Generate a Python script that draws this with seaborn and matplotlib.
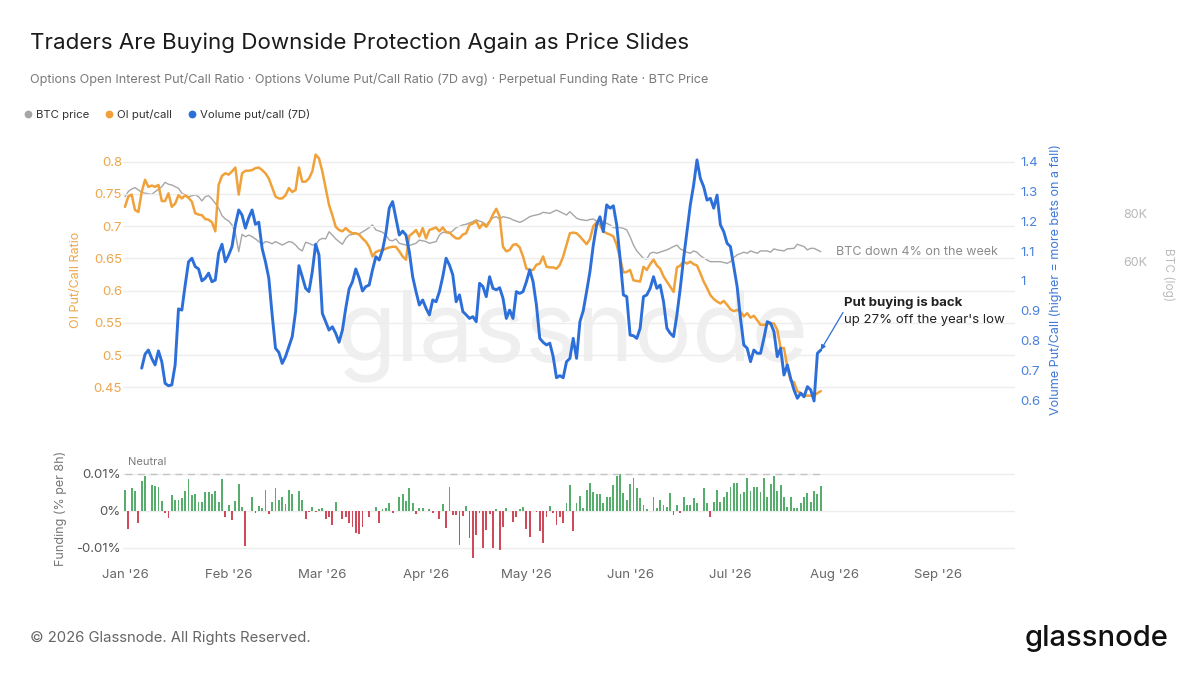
import numpy as np
import pandas as pd
import matplotlib
matplotlib.use("Agg")
import matplotlib.pyplot as plt
import matplotlib.dates as mdates
from matplotlib.lines import Line2D
from matplotlib.ticker import NullLocator
import seaborn as sns

# ── data ───────────────────────────────────────────────────
START = pd.Timestamp("2026-01-01")

# OI put/call ratio, daily from Jan 1
oi_start = 0
oi_ratio = [
    0.730, 0.746, 0.749, 0.725, 0.722, 0.753, 0.772, 0.761, 0.763, 0.761,
    0.764, 0.739, 0.739, 0.751, 0.730, 0.735, 0.748, 0.743, 0.748, 0.744,
    0.738, 0.720, 0.718, 0.717, 0.711, 0.710, 0.706, 0.692, 0.764, 0.778,
    0.782, 0.780, 0.785, 0.791, 0.749, 0.782, 0.786, 0.786, 0.787, 0.790,
    0.791, 0.787, 0.782, 0.774, 0.760, 0.746, 0.743, 0.743, 0.748, 0.759,
    0.753, 0.756, 0.791, 0.769, 0.769, 0.774, 0.785, 0.811, 0.805, 0.785,
    0.759, 0.733, 0.717, 0.699, 0.694, 0.692, 0.697, 0.692, 0.689, 0.689,
    0.687, 0.681, 0.676, 0.668, 0.653, 0.660, 0.662, 0.663, 0.665, 0.667,
    0.668, 0.668, 0.661, 0.653, 0.648, 0.685, 0.689, 0.694, 0.684, 0.697,
    0.681, 0.694, 0.696, 0.698, 0.692, 0.698, 0.691, 0.690, 0.685, 0.681,
    0.681, 0.687, 0.689, 0.702, 0.704, 0.708, 0.697, 0.704, 0.699, 0.707,
    0.718, 0.727, 0.715, 0.668, 0.661, 0.663, 0.671, 0.672, 0.667, 0.653,
    0.634, 0.632, 0.632, 0.640, 0.642, 0.653, 0.637, 0.636, 0.636, 0.634,
    0.640, 0.653, 0.671, 0.689, 0.690, 0.689, 0.684, 0.678, 0.672, 0.680,
    0.700, 0.706, 0.702, 0.692, 0.689, 0.687, 0.684, 0.671, 0.650, 0.628,
    0.629, 0.632, 0.616, 0.615, 0.614, 0.637, 0.632, 0.641, 0.648, 0.639,
    0.634, 0.622, 0.614, 0.606, 0.598, 0.636, 0.639, 0.645, 0.642, 0.645,
    0.641, 0.639, 0.627, 0.614, 0.604, 0.593, 0.587, 0.583, 0.580, 0.584,
    0.578, 0.571, 0.568, 0.570, 0.567, 0.560, 0.565, 0.558, 0.561, 0.554,
    0.547, 0.547, 0.548, 0.549, 0.549, 0.539, 0.511, 0.511, 0.482, 0.460,
    0.458, 0.444, 0.441, 0.438, 0.437, 0.437, 0.437, 0.441, 0.444,
]

# Volume put/call (7D avg), daily from Jan 6
vol_start = 5
vol_ratio = [
    0.707, 0.754, 0.768, 0.740, 0.718,
    0.765, 0.729, 0.656, 0.648, 0.651, 0.718, 0.906, 0.902, 0.986, 1.064,
    1.076, 1.048, 1.040, 1.000, 1.009, 1.026, 0.997, 1.003, 1.093, 1.123,
    1.064, 1.087, 1.115, 1.188, 1.238, 1.221, 1.177, 1.212, 1.238, 1.190,
    1.197, 1.109, 1.064, 1.009, 0.886, 0.774, 0.760, 0.723, 0.746, 0.779,
    0.813, 0.897, 1.051, 1.014, 0.975, 0.964, 1.031, 1.123, 1.087, 0.891,
    0.863, 0.835, 0.846, 0.824, 0.794, 0.835, 0.908, 0.973, 0.997, 1.040,
    1.009, 0.966, 0.981, 0.986, 1.037, 1.081, 1.070, 1.104, 1.160, 1.244,
    1.266, 1.210, 1.154, 1.167, 1.154, 1.098, 1.014, 0.964, 0.919, 0.936,
    0.908, 0.886, 0.936, 0.930, 0.964, 1.014, 1.076, 1.053, 1.020, 0.930,
    0.953, 0.897, 0.886, 0.874, 0.880, 0.863, 0.992, 0.981, 0.947, 1.014,
    0.975, 0.970, 0.977, 0.942, 0.874, 0.902, 0.874, 0.964, 0.958, 0.964,
    0.997, 1.037, 0.997, 0.919, 0.807, 0.794, 0.785, 0.791, 0.746, 0.675,
    0.682, 0.675, 0.729, 0.740, 0.807, 0.740, 0.863, 0.900, 0.964, 1.031,
    1.120, 1.188, 1.215, 1.165, 1.255, 1.244, 1.252, 1.188, 1.076, 0.953,
    0.947, 0.818, 0.816, 0.807, 0.841, 0.947, 0.953, 0.975, 1.014, 0.975,
    0.986, 0.930, 0.841, 0.824, 0.813, 0.886, 0.975, 1.076, 1.165, 1.255,
    1.322, 1.406, 1.344, 1.316, 1.271, 1.277, 1.244, 1.288, 1.188, 1.165,
    1.126, 1.115, 1.048, 0.981, 0.874, 0.785, 0.774, 0.729, 0.768, 0.757,
    0.757, 0.807, 0.863, 0.858, 0.830, 0.746, 0.774, 0.684, 0.718, 0.673,
    0.634, 0.606, 0.623, 0.611, 0.645, 0.634, 0.597, 0.757, 0.768,
]

# BTC price (thousand USD), day offset from Jan 1
btc_day = [
    0, 1, 2, 3, 4, 5, 6, 8, 9, 11, 12, 13, 14, 15, 16, 17, 18, 19, 21, 22,
    23, 24, 25, 26, 27, 28, 29, 30, 31, 32, 33, 34, 35, 36, 37, 38, 39, 40, 41, 42,
    43, 44, 45, 46, 47, 48, 49, 50, 51, 52, 53, 54, 55, 56, 57, 58, 59, 60, 61, 62,
    63, 64, 65, 66, 67, 68, 69, 70, 72, 74, 75, 77, 78, 79, 80, 81, 82, 84, 85, 87,
    88, 90, 91, 93, 94, 95, 97, 98, 99, 101, 102, 104, 105, 107, 108, 109, 110, 111, 112, 113,
    115, 116, 118, 119, 121, 122, 124, 125, 127, 128, 129, 130, 131, 132, 133, 134, 135, 136, 138, 139,
    140, 141, 143, 145, 146, 148, 149, 150, 151, 152, 153, 155, 156, 157, 158, 159, 161, 162, 164, 165,
    166, 168, 169, 170, 171, 172, 174, 175, 177, 178, 180, 181, 182, 183, 185, 186, 187, 189, 190, 192,
    193, 194, 195, 197, 198, 200, 201, 203, 204, 205, 206, 208,
]
btc_k = [
    88.7, 91.5, 92.9, 93.7, 92.4, 91.1, 90.6, 90.0, 91.4, 94.2, 96.7, 95.6, 95.2, 94.2, 93.3, 90.6, 89.7, 88.7, 89.7, 88.7,
    86.5, 88.7, 89.3, 87.5, 85.3, 82.8, 79.2, 77.6, 76.7, 74.9, 71.3, 63.8, 70.8, 69.8, 70.5, 69.8, 68.9, 67.8, 66.7, 67.8,
    67.5, 66.9, 67.8, 67.1, 66.4, 67.1, 67.8, 67.5, 66.4, 64.9, 64.1, 67.5, 67.1, 66.4, 66.4, 68.4, 69.1, 68.9, 71.9, 70.5,
    68.9, 67.8, 66.7, 69.1, 70.5, 70.8, 71.1, 71.0, 72.7, 74.9, 72.7, 71.7, 70.5, 68.4, 68.1, 68.9, 67.1, 66.4, 66.2, 67.1,
    68.4, 67.8, 67.1, 67.8, 70.5, 71.7, 71.3, 72.3, 73.7, 74.9, 75.2, 76.4, 77.2, 76.1, 74.9, 76.7, 78.2, 78.7, 77.6, 78.7,
    78.0, 77.2, 76.1, 76.7, 78.7, 79.2, 79.9, 80.8, 80.3, 81.1, 81.9, 81.1, 80.3, 79.5, 81.1, 79.5, 78.0, 77.4, 76.9, 77.4,
    77.6, 76.7, 76.4, 74.9, 73.7, 73.7, 73.4, 72.7, 69.8, 66.4, 64.1, 61.3, 61.1, 63.2, 63.6, 63.2, 64.1, 64.5, 65.8, 66.4,
    64.9, 63.6, 63.2, 64.1, 63.6, 62.3, 60.7, 60.1, 60.1, 60.1, 59.5, 60.1, 61.6, 62.6, 63.6, 63.2, 64.1, 63.2, 64.1, 64.1,
    63.6, 64.9, 64.5, 64.1, 64.9, 65.1, 66.7, 65.8, 64.5, 65.1, 65.1, 63.8,
]

# perpetual funding rate (% per 8h), daily from Jan 1
funding = [
    0.0055, -0.0050, 0.0060, 0.0054, -0.0032, 0.0080, 0.0093, 0.0, 0.0069, 0.0067,
    0.0064, 0.0027, -0.0005, -0.0020, 0.0042, 0.0029, 0.0030, 0.0035, 0.0053, 0.0084,
    0.0041, 0.0045, 0.0024, 0.0024, 0.0050, 0.0050, 0.0045, 0.0054, 0.0024, 0.0084,
    -0.0016, 0.0015, -0.0025, 0.0027, 0.0073, 0.0011, -0.0095, 0.0, 0.0036, -0.0005,
    0.0012, 0.0006, 0.0057, -0.0009, 0.0024, 0.0060, 0.0030, 0.0036, 0.0018, 0.0055,
    0.0046, 0.0, 0.0053, 0.0029, -0.0023, -0.0003, 0.0009, -0.0003, 0.0004, 0.0007,
    -0.0023, -0.0016, -0.0039, 0.0024, 0.0, -0.0021, -0.0018, -0.0032, -0.0045, -0.0059,
    -0.0063, -0.0045, 0.0, -0.0016, 0.0, 0.0009, -0.0034, 0.0004, 0.0006, 0.0022,
    -0.0005, 0.0, 0.0036, 0.0045, 0.0027, 0.0060, 0.0020, -0.0009, 0.0006, 0.0007,
    0.0, 0.0004, -0.0005, 0.0, -0.0023, 0.0018,
    -0.0047, 0.0063, -0.0012, -0.0012, -0.0092, -0.0014, 0.0013, -0.0074, -0.0128, -0.0065,
    -0.0007, -0.0101, -0.0052, -0.0009, -0.0101, 0.0004, -0.0105, -0.0043, 0.0006, 0.0,
    -0.0030, -0.0016, 0.0004, 0.0011, -0.0050, -0.0070, 0.0, -0.0003, -0.0054, -0.0088,
    -0.0018, 0.0013, -0.0005, -0.0038, -0.0016, -0.0032, 0.0020, 0.0069, -0.0054, 0.0020,
    0.0039, 0.0006, 0.0055, 0.0075, 0.0051, 0.0046, 0.0046, 0.0020, 0.0036, 0.0036,
    0.0069, 0.0093, 0.0098, 0.0048, 0.0030, 0.0071, 0.0087, 0.0060, 0.0033, 0.0015,
    0.0004, 0.0, 0.0036, 0.0006, 0.0030, 0.0015, 0.0009, 0.0048, -0.0012, 0.0015,
    -0.0007, 0.0036, 0.0015, 0.0015, 0.0033, 0.0020, 0.0, 0.0060, 0.0021, -0.0018,
    0.0024, 0.0057, 0.0024, 0.0037, 0.0051, 0.0064, 0.0075, 0.0075, 0.0045,
    0.0051, 0.0087, 0.0054, 0.0064, 0.0064, 0.0051, 0.0087, 0.0037, 0.0073, 0.0093,
    0.0054, 0.0069, 0.0037, 0.0011, 0.0037, 0.0006, 0.0006, 0.0021, 0.0036,
    0.0048, 0.0024, 0.0054, 0.0045, 0.0066,
]

oi_ticks = [0.45, 0.5, 0.55, 0.6, 0.65, 0.7, 0.75, 0.8]
vol_ticks = [0.6, 0.7, 0.8, 0.9, 1.0, 1.1, 1.2, 1.3, 1.4]
btc_ticks = [60, 80]
funding_ticks = [-0.01, 0.0, 0.01]

# ── style ───────────────────────────────────────────────────
ORANGE = "#f0a13a"
BLUE = "#2d6fd9"
GRAY = "#a6a6a6"
GREEN = "#56ad6c"
RED = "#cf4b5c"
GRID = "#ededed"

sns.set_theme(style="white")
plt.rcParams["font.family"] = ["Inter", "DejaVu Sans"]


def days_to_dates(start, n):
    return START + pd.to_timedelta(np.arange(n) + start, unit="D")


oi_dates = days_to_dates(oi_start, len(oi_ratio))
vol_dates = days_to_dates(vol_start, len(vol_ratio))
btc_dates = START + pd.to_timedelta(btc_day, unit="D")
f_dates = days_to_dates(0, len(funding))

x_lo = START - pd.Timedelta(hours=12)
x_hi = START + pd.Timedelta(days=266)

fig = plt.figure(figsize=(12, 6.75), dpi=100)
ax_btc = fig.add_axes([0.10275, 0.3956, 0.7429, 0.3822])
ax_oi = ax_btc.twinx()
ax_vol = ax_btc.twinx()
ax_f = fig.add_axes([0.10275, 0.1674, 0.7429, 0.1585])

# watermark
ax_btc.text(0.504, 0.28, "glassnode", transform=ax_btc.transAxes, fontsize=70,
            color="#efefef", ha="center", va="center", zorder=0)

# BTC price (log, far right)
sns.lineplot(x=btc_dates, y=np.array(btc_k) * 1000, ax=ax_btc, color=GRAY, linewidth=1.0)
ax_btc.set_yscale("log")
ax_btc.set_ylim(25000, 117400)
ax_btc.yaxis.tick_right()
ax_btc.spines["right"].set_position(("outward", 74))
ax_btc.set_yticks([v * 1000 for v in btc_ticks])
ax_btc.set_yticklabels([f"{v}K" for v in btc_ticks])
ax_btc.yaxis.set_minor_locator(NullLocator())
ax_btc.tick_params(axis="y", colors="#b8b8b8", labelsize=9, length=0, pad=4)
ax_btc.annotate("BTC down 4% on the week", xy=(btc_dates[-1], btc_k[-1] * 1000),
                xytext=(11, 0), textcoords="offset points", va="center",
                fontsize=9, color="#8c8c8c")

# OI put/call (left)
sns.lineplot(x=oi_dates, y=oi_ratio, ax=ax_oi, color=ORANGE, linewidth=1.8)
ax_oi.yaxis.tick_left()
ax_oi.set_ylim(0.4179, 0.8182)
ax_oi.set_yticks(oi_ticks)
ax_oi.set_yticklabels([f"{v:g}" for v in oi_ticks])
ax_oi.tick_params(axis="y", colors="#eda64a", labelsize=9.5, length=0, pad=1)
ax_oi.grid(axis="y", color=GRID, linewidth=1)
ax_oi.set_axisbelow(True)

# Volume put/call (right)
sns.lineplot(x=vol_dates, y=vol_ratio, ax=ax_vol, color=BLUE, linewidth=2.1)
ax_vol.set_ylim(0.5735, 1.4393)
ax_vol.set_yticks(vol_ticks)
ax_vol.set_yticklabels([f"{v:g}" for v in vol_ticks])
ax_vol.tick_params(axis="y", colors="#4a80da", labelsize=9.5, length=0, pad=4)
ax_vol.grid(False)

last = (vol_dates[-1], vol_ratio[-1])
ax_vol.annotate("", xy=last, xytext=(16, 27), textcoords="offset points",
                arrowprops=dict(arrowstyle="-|>", color=BLUE, lw=0.9,
                                mutation_scale=7, shrinkA=0, shrinkB=0))
ax_vol.annotate("Put buying is back", xy=last, xytext=(17, 34), textcoords="offset points",
                fontsize=9.5, fontweight="bold", color="#222222", va="center")
ax_vol.annotate("up 27% off the year's low", xy=last, xytext=(17, 21.5),
                textcoords="offset points", fontsize=9.5, color="#222222", va="center")

for a in (ax_btc, ax_oi, ax_vol):
    a.set_xlim(x_lo, x_hi)
    a.set_xlabel("")
    a.set_ylabel("")
    a.tick_params(axis="x", length=0, labelbottom=False)
    for s in a.spines.values():
        s.set_visible(False)

# funding panel
bar_colors = [GREEN if v >= 0 else RED for v in funding]
ax_f.bar(f_dates, funding, width=0.55, color=bar_colors, linewidth=0)
ax_f.hlines(0.01, f_dates[0], f_dates[-1], colors="#c4c4c4", linestyles=(0, (5, 4)),
            linewidth=1, zorder=1)
ax_f.text(START + pd.Timedelta(days=1), 0.0131, "Neutral", fontsize=8,
          color="#7a7a7a", va="center")
ax_f.set_xlim(x_lo, x_hi)
ax_f.set_ylim(-0.01379, 0.01497)
ax_f.set_yticks(funding_ticks)
ax_f.set_yticklabels(["-0.01%", "0%", "0.01%"])
ax_f.grid(axis="y", color=GRID, linewidth=1)
ax_f.set_axisbelow(True)
ax_f.xaxis.set_major_locator(mdates.MonthLocator())
ax_f.xaxis.set_major_formatter(mdates.DateFormatter("%b '%y"))
ax_f.tick_params(axis="y", colors="#555555", labelsize=9.5, length=0, pad=2)
ax_f.tick_params(axis="x", colors="#666666", labelsize=9.5, length=0, pad=5)
for s in ax_f.spines.values():
    s.set_visible(False)

# axis titles
fig.text(76 / 1200, 1 - 280 / 675, "OI Put/Call Ratio", rotation=90, ha="center",
         va="center", fontsize=9, color="#eda64a")
fig.text(1056 / 1200, 1 - 280 / 675, "Volume Put/Call (higher = more bets on a fall)",
         rotation=90, ha="center", va="center", fontsize=9, color="#3f78d8")
fig.text(1168 / 1200, 1 - 275 / 675, "BTC (log)", rotation=270, ha="center",
         va="center", fontsize=8.5, color="#bdbdbd")
fig.text(61 / 1200, 1 - 508 / 675, "Funding (% per 8h)", rotation=90, ha="center",
         va="center", fontsize=9, color="#777777")

# header
fig.text(30 / 1200, 1 - 43 / 675, "Traders Are Buying Downside Protection Again as Price Slides",
         fontsize=16.1, color="#1b1b1b", va="center")
fig.text(30 / 1200, 1 - 79 / 675,
         "Options Open Interest Put/Call Ratio \u00b7 Options Volume Put/Call Ratio (7D avg) "
         "\u00b7 Perpetual Funding Rate \u00b7 BTC Price",
         fontsize=9.1, color="#7a7a7a", va="center")

handles = [Line2D([], [], marker="o", linestyle="", color=c, markersize=4.6)
           for c in (GRAY, ORANGE, BLUE)]
fig.legend(handles, ["BTC price", "OI put/call", "Volume put/call (7D)"],
           loc="center left", bbox_to_anchor=(15 / 1200, 1 - 114 / 675), ncol=3,
           frameon=False, fontsize=8.2, handlelength=0.5, handletextpad=0.45,
           columnspacing=1.5, labelcolor="#333333")

# footer
fig.text(30 / 1200, 1 - 638 / 675, "\u00a9 2026 Glassnode. All Rights Reserved.",
         fontsize=10.7, color="#666666", va="center")
fig.text(1168 / 1200, 1 - 638 / 675, "glassnode", fontsize=21, color="#111111",
         ha="right", va="center", fontweight="medium")

fig.savefig("out.png", dpi=100, facecolor="white")
